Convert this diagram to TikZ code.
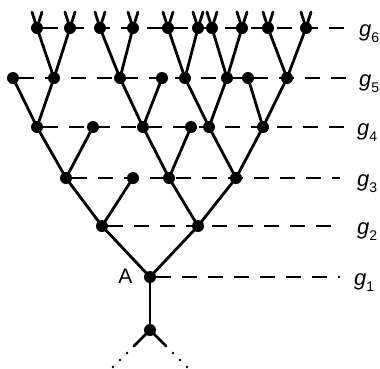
\documentclass[tikz,border=0pt]{standalone}
\usepackage{fontspec}
\setmainfont{Liberation Sans}
\tikzset{
  dot/.style={circle,fill=black,draw=none,inner sep=0pt,minimum size=12pt},
  edge/.style={line width=2.8pt,line cap=round},
  level/.style={line width=2pt,dash pattern=on 15pt off 11pt},
  dotline/.style={line width=2.6pt,line cap=round,dash pattern=on 0pt off 9.9pt},
  glab/.style={anchor=base west,inner sep=0pt},
}
\newcommand{\glabel}[1]{\fontsize{22}{22}\selectfont\itshape g\/\raisebox{-5.5pt}{\fontsize{14}{14}\selectfont\upshape #1}}
\begin{document}
\begin{tikzpicture}[x=1pt,y=-1pt]
\useasboundingbox (0,0) rectangle (380,368);
% nodes
\node[dot] (r0) at (150,330) {};
\node[dot] (A) at (150,277) {};
\node[dot] (b1) at (102,226) {};
\node[dot] (b2) at (198,226) {};
\node[dot] (c1) at (66,178) {};
\node[dot] (c2) at (133,178) {};
\node[dot] (c3) at (169,178) {};
\node[dot] (c4) at (236,178) {};
\node[dot] (d1) at (37,127) {};
\node[dot] (d2) at (93,127) {};
\node[dot] (d3) at (143,127) {};
\node[dot] (d4) at (191,127) {};
\node[dot] (d5) at (209,127) {};
\node[dot] (d6) at (263,127) {};
\node[dot] (e1) at (13,78) {};
\node[dot] (e2) at (54,78) {};
\node[dot] (e3) at (120,78) {};
\node[dot] (e4) at (162,78) {};
\node[dot] (e5) at (185,78) {};
\node[dot] (e6) at (227,78) {};
\node[dot] (e7) at (248,78) {};
\node[dot] (e8) at (287,78) {};
\foreach \i/\x in {1/37,2/70,3/100,4/133,5/168,6/198,7/212,8/242,9/268,10/306}{
  \node[dot] (f\i) at (\x,28) {};
  \coordinate (f\i l) at (\x-5,12);
  \coordinate (f\i r) at (\x+5,12);
  \draw[edge] (f\i.center) -- (f\i l);
  \draw[edge] (f\i.center) -- (f\i r);
}
% level line ends
\coordinate (h1) at (340,277);
\coordinate (h2) at (342,226);
\coordinate (h3) at (340,178);
\coordinate (h4) at (348,127);
\coordinate (h5) at (350,78);
\coordinate (h6) at (348,28);
\draw[level] (A) -- (h1);
\draw[level] (b1) -- (h2);
\draw[level] (c1) -- (h3);
\draw[level] (d1) -- (h4);
\draw[level] (e1) -- (h5);
\draw[level] (f1) -- (h6);
% tree edges
\foreach \a/\b in {r0/A,A/b1,A/b2,b1/c1,b1/c2,b2/c3,b2/c4,c1/d1,c1/d2,c3/d3,c3/d4,c4/d5,c4/d6,
  d1/e1,d1/e2,d3/e3,d3/e4,d5/e5,d5/e6,d6/e7,d6/e8,
  e2/f1,e2/f2,e3/f3,e3/f4,e5/f5,e5/f6,e6/f7,e6/f8,e8/f9,e8/f10}
  \draw[edge] (\a.center) -- (\b.center);
% bottom
\coordinate (bl) at (134,346);
\coordinate (br) at (166,346);
\coordinate (bll) at (112.8,367.2);
\coordinate (brr) at (187.2,367.2);
\draw[edge] (r0.center) -- (bl);
\draw[edge] (r0.center) -- (br);
\draw[dotline] (bl) -- (bll);
\draw[dotline] (br) -- (brr);
% labels
\node[anchor=base,inner sep=0pt,font=\fontsize{21}{21}\selectfont] (la) at (125.5,283) {A};
\node[glab] (l6) at (359,36.5) {\glabel{6}};
\node[glab] (l5) at (359,86.5) {\glabel{5}};
\node[glab] (l4) at (357,135.5) {\glabel{4}};
\node[glab] (l3) at (357,186.5) {\glabel{3}};
\node[glab] (l2) at (357,234.5) {\glabel{2}};
\node[glab] (l1) at (354,285.5) {\glabel{1}};
\end{tikzpicture}
\end{document}
